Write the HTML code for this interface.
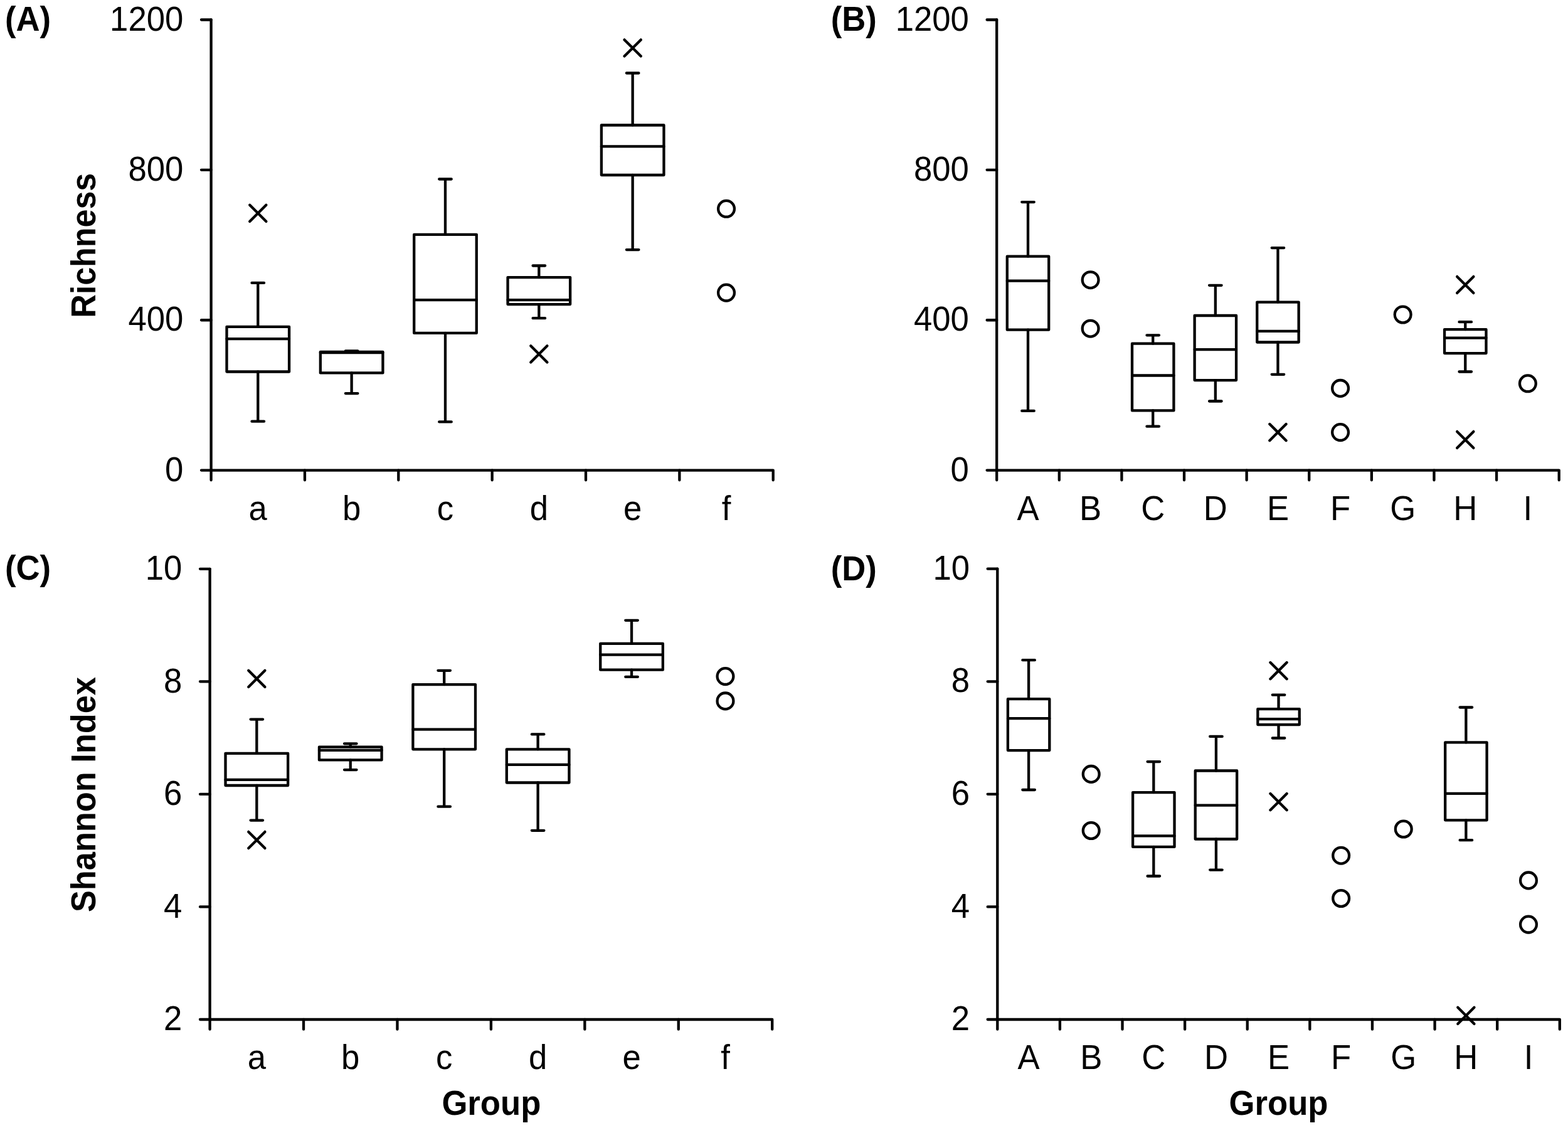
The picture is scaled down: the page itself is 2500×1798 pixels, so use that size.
<!DOCTYPE html>
<html><head><meta charset="utf-8"><title>Richness and Shannon Index box plots</title>
<style>
html,body{margin:0;padding:0;background:#fff;}
body{width:2500px;height:1798px;overflow:hidden;}
svg{display:block;}
text{font-family:"Liberation Sans",Arial,sans-serif;font-size:52.7px;fill:#000;}
text.b{font-weight:bold;}
.s{fill:none;stroke:#000;stroke-width:4.3;stroke-linecap:round;stroke-linejoin:round;}
</style></head>
<body>
<svg width="2500" height="1798" viewBox="0 0 2500 1798">
<rect width="2500" height="1798" fill="#fff"/>
<path d="M336.6 31.5V765.3M321 749.6H1232.7V765.3" class="s"/>
<path d="M321 31.5H336.6M321 270.87H336.6M321 510.23H336.6M485.95 749.6V765.3M635.3 749.6V765.3M784.65 749.6V765.3M934 749.6V765.3M1083.35 749.6V765.3" class="s"/>
<text transform="translate(292.3 48.7) scale(1 1.04)" text-anchor="end">1200</text>
<text transform="translate(292.3 288.07) scale(1 1.04)" text-anchor="end">800</text>
<text transform="translate(292.3 527.43) scale(1 1.04)" text-anchor="end">400</text>
<text transform="translate(292.3 766.8) scale(1 1.04)" text-anchor="end">0</text>
<text transform="translate(411.28 828.9) scale(1 1.04)" text-anchor="middle">a</text>
<text transform="translate(560.62 828.9) scale(1 1.04)" text-anchor="middle">b</text>
<text transform="translate(709.98 828.9) scale(1 1.04)" text-anchor="middle">c</text>
<text transform="translate(859.33 828.9) scale(1 1.04)" text-anchor="middle">d</text>
<text transform="translate(1008.67 828.9) scale(1 1.04)" text-anchor="middle">e</text>
<text transform="translate(1158.03 828.9) scale(1 1.04)" text-anchor="middle">f</text>
<path d="M411.28 450.9V520.8M411.28 592.5V671.7M401.53 450.9H421.03M401.53 671.7H421.03M361.49 540.1H461.06" class="s"/>
<rect x="361.49" y="520.8" width="99.57" height="71.7" class="s"/>
<path d="M398.18 326.7L424.38 352.9M398.18 352.9L424.38 326.7" class="s"/>
<path d="M560.62 559.4V560.9M560.62 594.4V627.1M550.88 559.4H570.38M550.88 627.1H570.38M510.84 562H610.41" class="s"/>
<rect x="510.84" y="560.9" width="99.57" height="33.5" class="s"/>
<path d="M709.98 285.5V373.8M709.98 530.9V672.4M700.23 285.5H719.73M700.23 672.4H719.73M660.19 478.1H759.76" class="s"/>
<rect x="660.19" y="373.8" width="99.57" height="157.1" class="s"/>
<path d="M859.33 423.5V442.1M859.33 485.1V507.2M849.58 423.5H869.08M849.58 507.2H869.08M809.54 478.1H909.11" class="s"/>
<rect x="809.54" y="442.1" width="99.57" height="43" class="s"/>
<path d="M846.23 551.3L872.43 577.5M846.23 577.5L872.43 551.3" class="s"/>
<path d="M1008.67 116.5V199.5M1008.67 279V398.1M998.92 116.5H1018.42M998.92 398.1H1018.42M958.89 233.4H1058.46" class="s"/>
<rect x="958.89" y="199.5" width="99.57" height="79.5" class="s"/>
<path d="M995.57 63.4L1021.77 89.6M995.57 89.6L1021.77 63.4" class="s"/>
<circle cx="1158.03" cy="332.8" r="12.9" class="s"/>
<circle cx="1158.03" cy="466.6" r="12.9" class="s"/>
<path d="M1589.2 31.5V765.3M1573.6 749.6H2485.7V765.3" class="s"/>
<path d="M1573.6 31.5H1589.2M1573.6 270.87H1589.2M1573.6 510.23H1589.2M1688.81 749.6V765.3M1788.42 749.6V765.3M1888.03 749.6V765.3M1987.64 749.6V765.3M2087.26 749.6V765.3M2186.87 749.6V765.3M2286.48 749.6V765.3M2386.09 749.6V765.3" class="s"/>
<text transform="translate(1544.9 48.7) scale(1 1.04)" text-anchor="end">1200</text>
<text transform="translate(1544.9 288.07) scale(1 1.04)" text-anchor="end">800</text>
<text transform="translate(1544.9 527.43) scale(1 1.04)" text-anchor="end">400</text>
<text transform="translate(1544.9 766.8) scale(1 1.04)" text-anchor="end">0</text>
<text transform="translate(1639.01 828.9) scale(1 1.04)" text-anchor="middle">A</text>
<text transform="translate(1738.62 828.9) scale(1 1.04)" text-anchor="middle">B</text>
<text transform="translate(1838.23 828.9) scale(1 1.04)" text-anchor="middle">C</text>
<text transform="translate(1937.84 828.9) scale(1 1.04)" text-anchor="middle">D</text>
<text transform="translate(2037.45 828.9) scale(1 1.04)" text-anchor="middle">E</text>
<text transform="translate(2137.06 828.9) scale(1 1.04)" text-anchor="middle">F</text>
<text transform="translate(2236.67 828.9) scale(1 1.04)" text-anchor="middle">G</text>
<text transform="translate(2336.28 828.9) scale(1 1.04)" text-anchor="middle">H</text>
<text transform="translate(2435.89 828.9) scale(1 1.04)" text-anchor="middle">I</text>
<path d="M1639.01 322.1V408.7M1639.01 525.7V654.9M1629.26 322.1H1648.76M1629.26 654.9H1648.76M1605.8 447.7H1672.21" class="s"/>
<rect x="1605.8" y="408.7" width="66.41" height="117" class="s"/>
<circle cx="1738.62" cy="446.2" r="12.9" class="s"/>
<circle cx="1738.62" cy="523.7" r="12.9" class="s"/>
<path d="M1838.23 534.3V547.7M1838.23 654.4V679.7M1828.48 534.3H1847.98M1828.48 679.7H1847.98M1805.02 598.5H1871.43" class="s"/>
<rect x="1805.02" y="547.7" width="66.41" height="106.7" class="s"/>
<path d="M1937.84 454.8V503M1937.84 606.1V639.5M1928.09 454.8H1947.59M1928.09 639.5H1947.59M1904.64 557.1H1971.04" class="s"/>
<rect x="1904.64" y="503" width="66.41" height="103.1" class="s"/>
<path d="M2037.45 395.1V481.6M2037.45 545.5V596.8M2027.7 395.1H2047.2M2027.7 596.8H2047.2M2004.25 527.9H2070.65" class="s"/>
<rect x="2004.25" y="481.6" width="66.41" height="63.9" class="s"/>
<path d="M2024.35 676L2050.55 702.2M2024.35 702.2L2050.55 676" class="s"/>
<circle cx="2137.06" cy="618.9" r="12.9" class="s"/>
<circle cx="2137.06" cy="689.1" r="12.9" class="s"/>
<circle cx="2236.67" cy="501.5" r="12.9" class="s"/>
<path d="M2336.28 513.2V525.2M2336.28 563.1V592.5M2326.53 513.2H2346.03M2326.53 592.5H2346.03M2303.08 538.6H2369.49" class="s"/>
<rect x="2303.08" y="525.2" width="66.41" height="37.9" class="s"/>
<path d="M2323.18 440.9L2349.38 467.1M2323.18 467.1L2349.38 440.9" class="s"/>
<path d="M2323.18 687.9L2349.38 714.1M2323.18 714.1L2349.38 687.9" class="s"/>
<circle cx="2435.89" cy="611.3" r="12.9" class="s"/>
<path d="M334.6 906.8V1640.7M319 1625H1231.2V1640.7" class="s"/>
<path d="M319 906.8H334.6M319 1086.35H334.6M319 1265.9H334.6M319 1445.45H334.6M484.03 1625V1640.7M633.47 1625V1640.7M782.9 1625V1640.7M932.33 1625V1640.7M1081.77 1625V1640.7" class="s"/>
<text transform="translate(290.3 924) scale(1 1.04)" text-anchor="end">10</text>
<text transform="translate(290.3 1103.55) scale(1 1.04)" text-anchor="end">8</text>
<text transform="translate(290.3 1283.1) scale(1 1.04)" text-anchor="end">6</text>
<text transform="translate(290.3 1462.65) scale(1 1.04)" text-anchor="end">4</text>
<text transform="translate(290.3 1642.2) scale(1 1.04)" text-anchor="end">2</text>
<text transform="translate(409.32 1704.3) scale(1 1.04)" text-anchor="middle">a</text>
<text transform="translate(558.75 1704.3) scale(1 1.04)" text-anchor="middle">b</text>
<text transform="translate(708.18 1704.3) scale(1 1.04)" text-anchor="middle">c</text>
<text transform="translate(857.62 1704.3) scale(1 1.04)" text-anchor="middle">d</text>
<text transform="translate(1007.05 1704.3) scale(1 1.04)" text-anchor="middle">e</text>
<text transform="translate(1156.48 1704.3) scale(1 1.04)" text-anchor="middle">f</text>
<path d="M409.32 1146.6V1200.8M409.32 1252V1307.6M399.57 1146.6H419.07M399.57 1307.6H419.07M359.51 1242.9H459.13" class="s"/>
<rect x="359.51" y="1200.8" width="99.62" height="51.2" class="s"/>
<path d="M396.22 1068.8L422.42 1095M396.22 1095L422.42 1068.8" class="s"/>
<path d="M396.22 1325.9L422.42 1352.1M396.22 1352.1L422.42 1325.9" class="s"/>
<path d="M558.75 1185.3V1190.7M558.75 1211.4V1227.1M549 1185.3H568.5M549 1227.1H568.5M508.94 1195.8H608.56" class="s"/>
<rect x="508.94" y="1190.7" width="99.62" height="20.7" class="s"/>
<path d="M708.18 1068.8V1091.1M708.18 1194.3V1285.7M698.43 1068.8H717.93M698.43 1285.7H717.93M658.37 1162.6H757.99" class="s"/>
<rect x="658.37" y="1091.1" width="99.62" height="103.2" class="s"/>
<path d="M857.62 1170.4V1194.3M857.62 1247.5V1323.8M847.87 1170.4H867.37M847.87 1323.8H867.37M807.81 1218.9H907.43" class="s"/>
<rect x="807.81" y="1194.3" width="99.62" height="53.2" class="s"/>
<path d="M1007.05 988.8V1025.8M1007.05 1067.7V1078.9M997.3 988.8H1016.8M997.3 1078.9H1016.8M957.24 1043.6H1056.86" class="s"/>
<rect x="957.24" y="1025.8" width="99.62" height="41.9" class="s"/>
<circle cx="1156.48" cy="1078.1" r="12.9" class="s"/>
<circle cx="1156.48" cy="1117.4" r="12.9" class="s"/>
<path d="M1590.3 906.7V1640.7M1574.7 1625H2486.8V1640.7" class="s"/>
<path d="M1574.7 906.7H1590.3M1574.7 1086.28H1590.3M1574.7 1265.85H1590.3M1574.7 1445.42H1590.3M1689.91 1625V1640.7M1789.52 1625V1640.7M1889.13 1625V1640.7M1988.74 1625V1640.7M2088.36 1625V1640.7M2187.97 1625V1640.7M2287.58 1625V1640.7M2387.19 1625V1640.7" class="s"/>
<text transform="translate(1546 923.9) scale(1 1.04)" text-anchor="end">10</text>
<text transform="translate(1546 1103.48) scale(1 1.04)" text-anchor="end">8</text>
<text transform="translate(1546 1283.05) scale(1 1.04)" text-anchor="end">6</text>
<text transform="translate(1546 1462.62) scale(1 1.04)" text-anchor="end">4</text>
<text transform="translate(1546 1642.2) scale(1 1.04)" text-anchor="end">2</text>
<text transform="translate(1640.11 1704.3) scale(1 1.04)" text-anchor="middle">A</text>
<text transform="translate(1739.72 1704.3) scale(1 1.04)" text-anchor="middle">B</text>
<text transform="translate(1839.33 1704.3) scale(1 1.04)" text-anchor="middle">C</text>
<text transform="translate(1938.94 1704.3) scale(1 1.04)" text-anchor="middle">D</text>
<text transform="translate(2038.55 1704.3) scale(1 1.04)" text-anchor="middle">E</text>
<text transform="translate(2138.16 1704.3) scale(1 1.04)" text-anchor="middle">F</text>
<text transform="translate(2237.77 1704.3) scale(1 1.04)" text-anchor="middle">G</text>
<text transform="translate(2337.38 1704.3) scale(1 1.04)" text-anchor="middle">H</text>
<text transform="translate(2436.99 1704.3) scale(1 1.04)" text-anchor="middle">I</text>
<path d="M1640.11 1052.2V1114.2M1640.11 1196.1V1259M1630.36 1052.2H1649.86M1630.36 1259H1649.86M1606.9 1145.2H1673.31" class="s"/>
<rect x="1606.9" y="1114.2" width="66.41" height="81.9" class="s"/>
<circle cx="1739.72" cy="1233.9" r="12.9" class="s"/>
<circle cx="1739.72" cy="1324" r="12.9" class="s"/>
<path d="M1839.33 1214.1V1263.1M1839.33 1349.9V1396.5M1829.58 1214.1H1849.08M1829.58 1396.5H1849.08M1806.12 1332.4H1872.53" class="s"/>
<rect x="1806.12" y="1263.1" width="66.41" height="86.8" class="s"/>
<path d="M1938.94 1173.9V1228.5M1938.94 1337.5V1386.6M1929.19 1173.9H1948.69M1929.19 1386.6H1948.69M1905.74 1283.6H1972.14" class="s"/>
<rect x="1905.74" y="1228.5" width="66.41" height="109" class="s"/>
<path d="M2038.55 1107.7V1130.1M2038.55 1155.1V1176.5M2028.8 1107.7H2048.3M2028.8 1176.5H2048.3M2005.35 1146.1H2071.75" class="s"/>
<rect x="2005.35" y="1130.1" width="66.41" height="25" class="s"/>
<path d="M2025.45 1056L2051.65 1082.2M2025.45 1082.2L2051.65 1056" class="s"/>
<path d="M2025.45 1265.1L2051.65 1291.3M2025.45 1291.3L2051.65 1265.1" class="s"/>
<circle cx="2138.16" cy="1363.7" r="12.9" class="s"/>
<circle cx="2138.16" cy="1432" r="12.9" class="s"/>
<circle cx="2237.77" cy="1321.5" r="12.9" class="s"/>
<path d="M2337.38 1127.5V1183.4M2337.38 1307.3V1339.2M2327.63 1127.5H2347.13M2327.63 1339.2H2347.13M2304.18 1264.8H2370.59" class="s"/>
<rect x="2304.18" y="1183.4" width="66.41" height="123.9" class="s"/>
<path d="M2324.28 1605.7L2350.48 1631.9M2324.28 1631.9L2350.48 1605.7" class="s"/>
<circle cx="2436.99" cy="1403.4" r="12.9" class="s"/>
<circle cx="2436.99" cy="1473.6" r="12.9" class="s"/>
<text transform="translate(8 48.7) scale(1 1.04)" class="b">(A)</text>
<text transform="translate(1324.7 49) scale(1 1.04)" class="b">(B)</text>
<text transform="translate(8 924) scale(1 1.04)" class="b">(C)</text>
<text transform="translate(1324.7 925) scale(1 1.04)" class="b">(D)</text>
<text transform="translate(152.4 391.3) rotate(-90) scale(1 1.04)" text-anchor="middle" class="b" textLength="231" lengthAdjust="spacingAndGlyphs">Richness</text>
<text transform="translate(152.4 1266.6) rotate(-90) scale(1 1.04)" text-anchor="middle" class="b" textLength="374.9" lengthAdjust="spacingAndGlyphs">Shannon Index</text>
<text transform="translate(783.4 1777) scale(1 1.04)" text-anchor="middle" class="b">Group</text>
<text transform="translate(2038.5 1777) scale(1 1.04)" text-anchor="middle" class="b">Group</text>
</svg>
</body></html>
